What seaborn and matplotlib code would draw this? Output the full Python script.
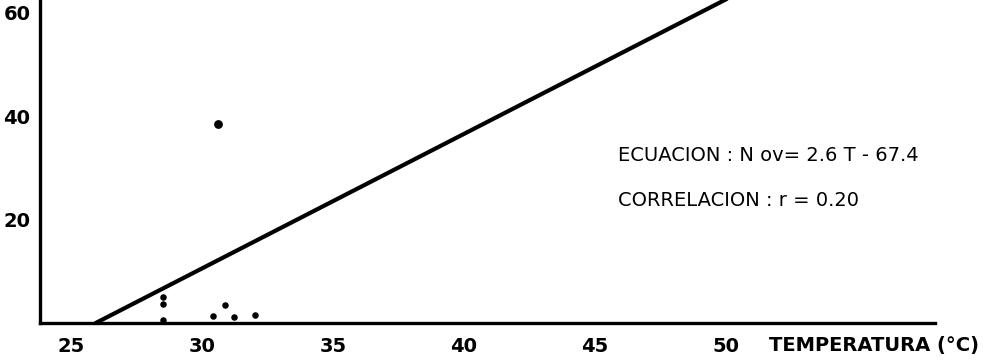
import numpy as np
import pandas as pd
import matplotlib
matplotlib.use("Agg")
import matplotlib.pyplot as plt
import matplotlib.transforms as mtransforms
import seaborn as sns

# Observed points: temperature (°C) and number of ovipositions
temperatura = [28.5, 28.5, 28.5, 30.4, 30.6, 30.85, 31.2, 32.0]
n_ov = [5.0, 3.7, 0.6, 1.4, 38.5, 3.5, 1.2, 1.5]
punto_grande = [False, False, False, False, True, False, False, False]

# Fitted regression: N ov = 2.6 T - 67.4
pendiente = 2.6
intercepto = -67.4
r_corr = 0.20

x_ticks = [25, 30, 35, 40, 45, 50]
y_ticks_major = [20, 40, 60]
y_ticks_minor = [10, 30, 50]

sns.set_theme(style="white")
plt.rcParams["font.family"] = ["DejaVu Sans"]

fig = plt.figure(figsize=(9.89, 3.63), dpi=100)
ax = fig.add_axes([0.0405, 0.110, 0.905, 0.890])

df = pd.DataFrame({"T": temperatura, "N": n_ov, "grande": punto_grande})

sns.scatterplot(data=df[~df["grande"]], x="T", y="N", color="black", s=22,
                edgecolor="black", linewidth=0, ax=ax, zorder=4)
sns.scatterplot(data=df[df["grande"]], x="T", y="N", color="black", s=40,
                edgecolor="black", linewidth=0, ax=ax, zorder=4)

t_ini = -intercepto / pendiente
t_lin = np.array([t_ini, 55.0])
recta = pd.DataFrame({"T": t_lin, "N": pendiente * t_lin + intercepto})
sns.lineplot(data=recta, x="T", y="N", color="black", linewidth=3.0, ax=ax,
             zorder=3)

ax.set_xlim(23.8, 58.0)
ax.set_ylim(0, 62.5)

ax.set_xticks(x_ticks)
ax.set_xticklabels([str(v) for v in x_ticks])
ax.set_yticks(y_ticks_major)
ax.set_yticklabels([str(v) for v in y_ticks_major])
ax.set_yticks(y_ticks_minor, minor=True)

ax.tick_params(axis="x", direction="inout", length=8, width=1.6, pad=6,
               labelsize=14, colors="black")
ax.tick_params(axis="y", which="both", direction="out", length=4, width=1.6,
               pad=3, labelsize=14, colors="black")
for lab in ax.get_xticklabels() + ax.get_yticklabels():
    lab.set_fontweight("bold")

for side in ["top", "right"]:
    ax.spines[side].set_visible(False)
for side in ["left", "bottom"]:
    ax.spines[side].set_color("black")
    ax.spines[side].set_linewidth(2.4)

ax.set_xlabel("")
ax.set_ylabel("")
ax.grid(False)

trans = mtransforms.blended_transform_factory(ax.transData, ax.transAxes)
ax.text(51.65, -0.068, "TEMPERATURA (°C)", transform=trans, ha="left",
        va="center", fontsize=14, fontweight="bold", color="black")

ax.text(45.9, 32.5, "ECUACION : N ov= 2.6 T - 67.4", ha="left", va="center",
        fontsize=14, color="black")
ax.text(45.9, 23.8, f"CORRELACION : r = {r_corr:.2f}", ha="left",
        va="center", fontsize=14, color="black")

fig.savefig("out.png", dpi=100, facecolor="white")
